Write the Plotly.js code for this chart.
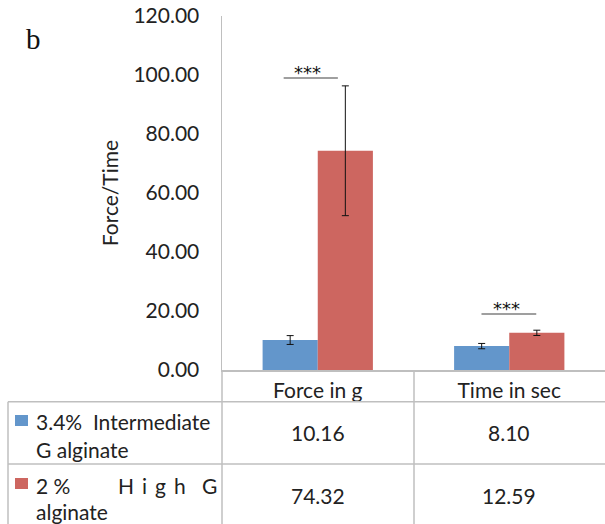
<!DOCTYPE html>
<html>
<head>
<meta charset="utf-8">
<script src="https://cdn.plot.ly/plotly-3.0.1.min.js"></script>
<style>html,body{margin:0;padding:0;background:#fff;}#chart{width:605px;height:524px;}</style>
</head>
<body>
<div id="chart"></div>
<script>
var categories = ['Force in g', 'Time in sec'];
var seriesNames = ['3.4% Intermediate G alginate', '2 % High G alginate'];
var intermediateG = [10.16, 8.10];
var highG = [74.32, 12.59];
var intermediateErr = [1.5, 0.9];
var highErr = [22.0, 0.9];
var sigLevel = [99, 19];
var sigLabel = ['***', '***'];
var yTicks = [0, 20, 40, 60, 80, 100, 120];

var FONT = 'Lato, "Open Sans", sans-serif';
var GRID = '#bfbfbf';
var BLUE = '#6396cb', RED = '#cd6660';

// pixel -> paper helpers (layout positions only)
var L = 222, R = 605, T = 16, B = 370;
function px(x) { return (x - L) / (R - L); }
function py(y) { return (B - y) / (B - T); }

var traces = [
  {type: 'bar', x: categories, y: intermediateG, name: seriesNames[0], marker: {color: BLUE},
   error_y: {type: 'data', array: intermediateErr, visible: true, color: '#111', thickness: 1, width: 3.5}},
  {type: 'bar', x: categories, y: highG, name: seriesNames[1], marker: {color: RED},
   error_y: {type: 'data', array: highErr, visible: true, color: '#111', thickness: 1, width: 3.5}}
];

var shapes = [];
var annotations = [];
function hline(x0, x1, y) { shapes.push({type: 'line', xref: 'paper', yref: 'paper', x0: px(x0), x1: px(x1), y0: py(y), y1: py(y), line: {color: GRID, width: 1.5}}); }
function vline(x, y0, y1) { shapes.push({type: 'line', xref: 'paper', yref: 'paper', x0: px(x), x1: px(x), y0: py(y0), y1: py(y1), line: {color: GRID, width: 1.5}}); }

// data table grid
hline(8, 605, 401.7);
hline(8, 605, 464);
vline(8, 401.7, 524);
vline(222, 370, 524);
vline(414, 370, 524);

// significance lines
var sigOffsets = [[-0.178, 0.105], [-0.145, 0.141]];
var sigTextOff = [-0.052, -0.016];
for (var i = 0; i < categories.length; i++) {
  shapes.push({type: 'line', xref: 'x', yref: 'y', x0: i + sigOffsets[i][0], x1: i + sigOffsets[i][1],
    y0: sigLevel[i], y1: sigLevel[i], line: {color: '#7f7f7f', width: 1.5}});
  annotations.push({xref: 'x', yref: 'y', x: i + sigTextOff[i], y: sigLevel[i] - 2.5, yanchor: 'bottom', xanchor: 'center',
    text: sigLabel[i], showarrow: false, font: {family: '"DejaVu Sans", sans-serif', size: 18, color: '#111'}});
}

// legend keys
shapes.push({type: 'rect', xref: 'paper', yref: 'paper', x0: px(15), x1: px(28), y0: py(415), y1: py(426), fillcolor: BLUE, line: {width: 0}});
shapes.push({type: 'rect', xref: 'paper', yref: 'paper', x0: px(15), x1: px(28), y0: py(478), y1: py(489), fillcolor: RED, line: {width: 0}});

function txt(x, y, s, anchor) {
  annotations.push({xref: 'paper', yref: 'paper', x: px(x), y: py(y), text: s, showarrow: false,
    xanchor: anchor || 'left', yanchor: 'middle', font: {family: FONT, size: 21, color: '#222'}});
}
txt(34, 421.7, '3.4%\u00a0\u00a0Intermediate');
txt(34, 449, 'G alginate');
txt(34, 485, '2 %');
txt(152, 485, 'H\u00a0\u2009i\u00a0\u2009g\u00a0\u2009h', 'center');
txt(219, 485, 'G', 'right');
txt(34, 511.7, 'alginate');

// table values
var rows = [intermediateG, highG];
var rowY = [432, 495];
for (var r = 0; r < rows.length; r++) {
  for (var c = 0; c < categories.length; c++) {
    annotations.push({xref: 'x', yref: 'paper', x: c, y: py(rowY[r]), text: rows[r][c].toFixed(2), showarrow: false,
      xanchor: 'center', yanchor: 'middle', font: {family: FONT, size: 21, color: '#222'}});
  }
}

// panel label
annotations.push({xref: 'paper', yref: 'paper', x: px(33), y: py(39), text: 'b', showarrow: false,
  xanchor: 'center', yanchor: 'middle', font: {family: '"Liberation Serif", "DejaVu Serif", serif', size: 29, color: '#111'}});

var layout = {
  width: 605, height: 524,
  margin: {l: L, r: 605 - R, t: T, b: 524 - B, pad: 0},
  paper_bgcolor: '#fff', plot_bgcolor: '#fff',
  showlegend: false,
  barmode: 'group', bargap: 0.424, bargroupgap: 0,
  font: {family: FONT, color: '#222'},
  xaxis: {type: 'category', showline: true, linecolor: GRID, linewidth: 1.5, ticks: '', showgrid: false,
    tickfont: {family: FONT, size: 21, color: '#222'}, ticklabelstandoff: 1, zeroline: false, fixedrange: true},
  yaxis: {range: [0, 120], tickvals: yTicks, ticktext: yTicks.map(function (v) { return v.toFixed(2); }),
    showline: true, linecolor: GRID, linewidth: 1.5, ticks: '', showgrid: false, zeroline: false,
    tickfont: {family: FONT, size: 21, color: '#222'}, ticklabelstandoff: 17,
    title: {text: 'Force/Time', font: {family: FONT, size: 21, color: '#222'}, standoff: 9}},
  shapes: shapes,
  annotations: annotations
};

Plotly.newPlot('chart', traces, layout, {displayModeBar: false, staticPlot: true});
</script>
</body>
</html>
